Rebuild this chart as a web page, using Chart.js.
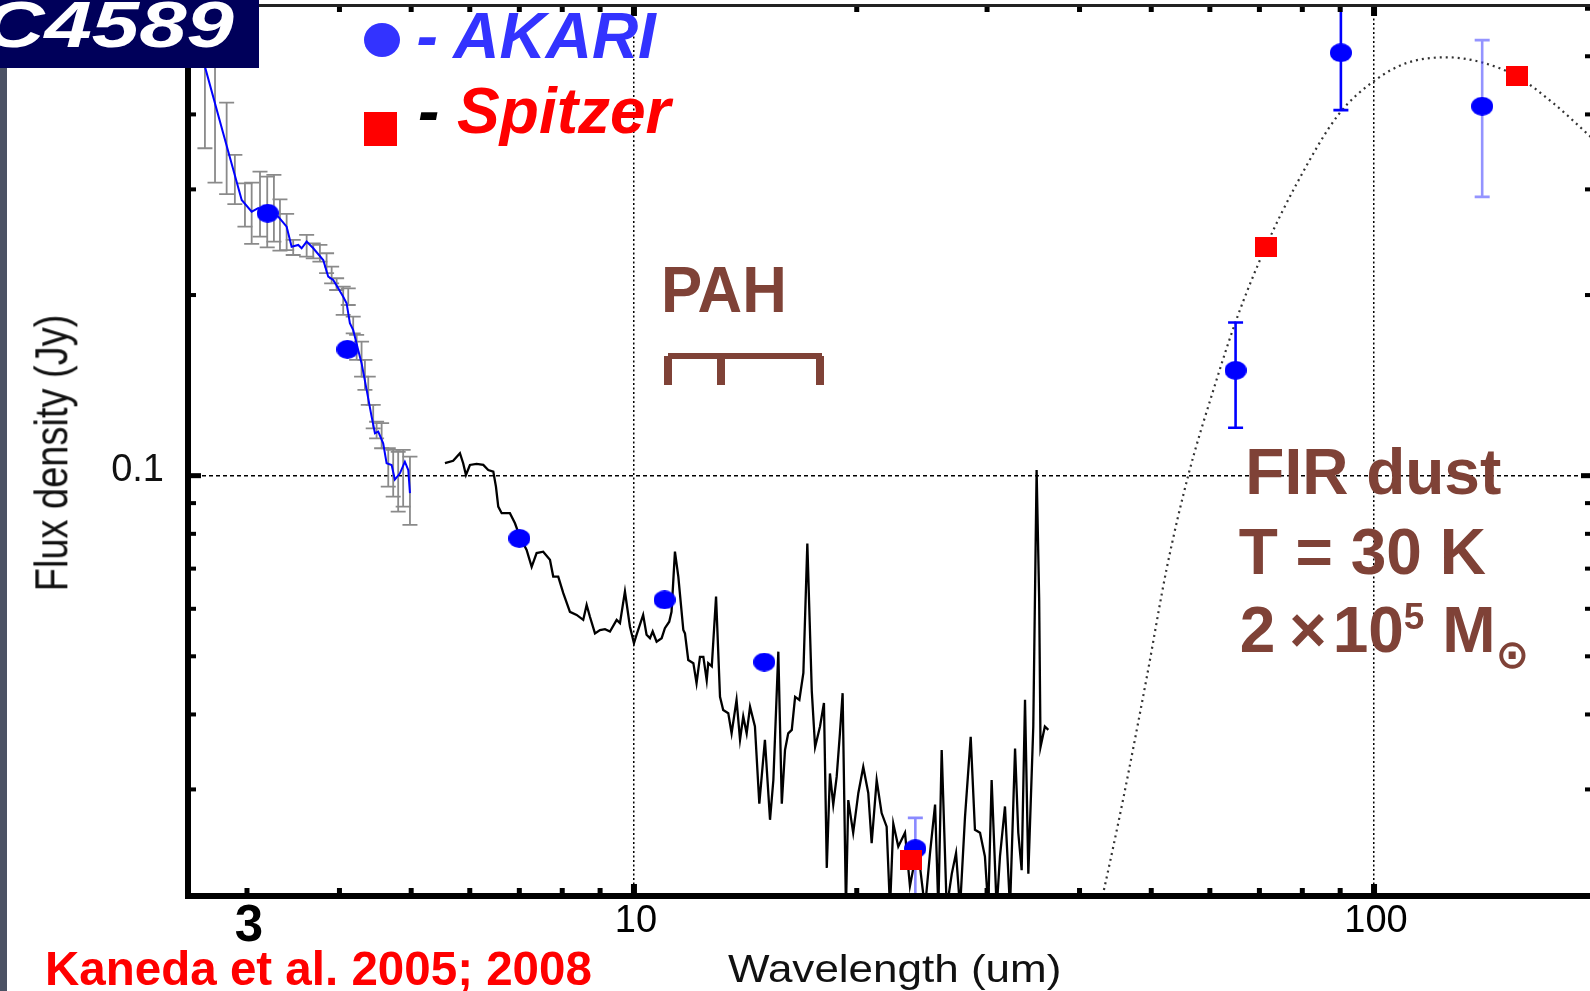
<!DOCTYPE html>
<html><head><meta charset="utf-8">
<script src="https://cdn.jsdelivr.net/npm/chart.js@4.4.0/dist/chart.umd.min.js"></script>
<style>
html,body{margin:0;padding:0;background:#fff;}
body{width:1590px;height:991px;overflow:hidden;position:relative;font-family:'Liberation Sans',Arial,sans-serif;}
#c{position:absolute;left:0;top:0;}
.t{position:absolute;white-space:nowrap;line-height:1;margin:0;}
.brown{color:#7f4237;}
.bk{position:absolute;background:#7f4237;}
</style></head><body>
<canvas id="c" width="1590" height="991"></canvas>
<div style="position:absolute;left:0;top:0;width:7px;height:991px;background:#4b5264"></div>
<div style="position:absolute;left:0;top:0;width:259px;height:68px;background:#00005a;overflow:hidden">
  <div class="t" style="left:-16.8px;top:-7px;font-size:64px;font-weight:bold;font-style:italic;color:#fff;transform-origin:0 0;transform:scaleX(1.33)">C4589</div>
</div>
<div style="position:absolute;left:364px;top:23px;width:36px;height:34px;border-radius:50%;background:#3333ff"></div>
<div class="t" style="left:416.5px;top:3.5px;font-size:64px;font-weight:bold;font-style:italic;color:#3333ff">- AKARI</div>
<div style="position:absolute;left:364px;top:112px;width:33px;height:34px;background:#ff0000"></div>
<div class="t" style="left:418px;top:79px;font-size:64px;font-weight:bold;font-style:italic;color:#ff0000"><span style="color:#000">-</span> Spitzer</div>

<div class="t brown" style="left:661.3px;top:256.5px;font-size:65px;font-weight:bold;transform-origin:0 0;transform:scaleX(0.95)">PAH</div>
<div class="bk" style="left:668px;top:353px;width:154px;height:6px"></div>
<div class="bk" style="left:664px;top:356px;width:8px;height:29px"></div>
<div class="bk" style="left:717px;top:356px;width:8px;height:29px"></div>
<div class="bk" style="left:816px;top:356px;width:8px;height:29px"></div>

<div class="t brown" style="left:1245.3px;top:439.7px;font-size:64px;font-weight:bold">FIR dust</div>
<div class="t brown" style="left:1238.7px;top:520px;font-size:64px;font-weight:bold">T = 30 K</div>
<div class="t brown" style="left:1239.7px;top:598.4px;font-size:64px;font-weight:bold">2<span style="margin-left:14px">×</span><span style="margin-left:6px">10</span><span style="font-size:37px;position:relative;top:-23px">5</span> M<span style="font-family:'DejaVu Sans';font-size:40px;font-weight:bold;position:relative;top:16px;margin-left:0px">⊙</span></div>

<div class="t" style="left:51.7px;top:453px;font-size:38px;color:#111;transform-origin:0 0;transform:scaleX(1.22) rotate(-90deg) translate(-50%,-50%)">Flux density (Jy)</div>
<div class="t" style="left:727.5px;top:950px;font-size:38px;color:#111;transform-origin:0 0;transform:scaleX(1.158)">Wavelength (um)</div>
<div class="t" style="left:44.5px;top:944.3px;font-size:49px;font-weight:bold;color:#ff0000;transform-origin:0 0;transform:scaleX(0.97)">Kaneda et al. 2005; 2008</div>

<script>
// ---------------- data ----------------
const xTickValues = [3, 10, 100];
const yTickValues = [0.1];
const xMinorTicks = [3, 4, 5, 6, 7, 8, 9, 20, 30, 40, 50, 60, 70, 80, 90];
const xMajorTicks = [10, 100];
const yMinorTicks = [0.03, 0.04, 0.05, 0.06, 0.07, 0.08, 0.09, 0.2, 0.3, 0.4, 0.5, 0.6];
const yMajorTicks = [0.1];

// AKARI IRC near-IR spectrum (blue line)
const nirWave = [2.559, 2.632, 2.786, 2.951, 3.044, 3.107, 3.205, 3.306, 3.394, 3.447, 3.519, 3.556, 3.612, 3.687, 3.803, 3.863, 3.923, 3.985, 4.047, 4.090, 4.132, 4.175, 4.240, 4.285, 4.353, 4.421, 4.467, 4.513, 4.583, 4.632, 4.705, 4.753, 4.828, 4.903, 4.955, 4.981];
const nirFlux = [0.5324, 0.4805, 0.3721, 0.2880, 0.2754, 0.2791, 0.2738, 0.2703, 0.2600, 0.2408, 0.2424, 0.2393, 0.2455, 0.2393, 0.2288, 0.2146, 0.2119, 0.2052, 0.1987, 0.1937, 0.1795, 0.1749, 0.1620, 0.1540, 0.1390, 0.1254, 0.1177, 0.1184, 0.1132, 0.1049, 0.1042, 0.0985, 0.1009, 0.1055, 0.1022, 0.0935];
// gray error bars of the near-IR spectrum
const nirErrWave = [2.632, 2.716, 2.816, 2.889, 2.981, 3.044, 3.124, 3.195, 3.262, 3.324, 3.394, 3.464, 3.612, 3.687, 3.764, 3.843, 3.904, 3.965, 4.047, 4.111, 4.175, 4.220, 4.285, 4.330, 4.375, 4.443, 4.490, 4.561, 4.656, 4.728, 4.802, 4.877, 4.981];
const nirErrHigh = [0.553, 0.4929, 0.4184, 0.3424, 0.3071, 0.3078, 0.3211, 0.3150, 0.3171, 0.2888, 0.2731, 0.2471, 0.2519, 0.2439, 0.2424, 0.2348, 0.2230, 0.2133, 0.2065, 0.2052, 0.1841, 0.1716, 0.1672, 0.1559, 0.1462, 0.1312, 0.1230, 0.1223, 0.1111, 0.1104, 0.1096, 0.1104, 0.1076];
const nirErrLow = [0.3513, 0.3078, 0.2947, 0.2836, 0.2600, 0.2433, 0.2502, 0.2402, 0.2455, 0.2371, 0.2377, 0.2332, 0.2317, 0.2302, 0.2273, 0.2175, 0.2092, 0.2039, 0.1853, 0.1925, 0.1727, 0.1559, 0.1462, 0.1390, 0.1312, 0.1199, 0.1154, 0.1111, 0.0959, 0.0923, 0.0871, 0.0888, 0.0828];

// Spitzer IRS mid-IR spectrum (black line)
const irsWave = [5.554, 5.698, 5.819, 5.878, 5.929, 6.003, 6.128, 6.258, 6.355, 6.456, 6.509, 6.556, 6.626, 6.798, 6.906, 7.013, 7.161, 7.274, 7.387, 7.540,
  7.700, 7.779, 7.901, 8.026, 8.194, 8.367, 8.540, 8.631, 8.720, 8.858, 8.997, 9.138, 9.281, 9.476, 9.574, 9.723, 9.876, 10.00, 10.08, 10.29,
  10.40, 10.51, 10.60, 10.73, 10.90, 11.01, 11.16, 11.24, 11.36, 11.48, 11.66, 11.72, 11.84, 12.03, 12.15, 12.28, 12.41, 12.54, 12.60, 12.74,
  12.91, 13.07, 13.20, 13.41, 13.55, 13.76, 13.91, 14.05, 14.20, 14.35, 14.57, 14.77, 15.03, 15.27, 15.43, 15.67, 15.84, 16.00, 16.16, 16.34,
  16.51, 16.73, 16.94, 17.15, 17.39, 17.57, 17.84, 18.06, 18.22, 18.40, 18.59, 18.79, 18.98, 19.14, 19.34, 19.48, 19.78, 20.10, 20.41, 20.73,
  20.95, 21.28, 21.61, 21.95, 22.18, 22.41, 22.76, 23.24, 23.60, 23.97, 24.35, 24.73, 25.12, 25.52, 25.78, 26.05, 26.46, 26.88, 27.24, 27.58,
  28.01, 28.51, 28.89, 29.35, 29.80, 30.11, 30.43, 30.91, 31.23, 31.72, 32.22, 32.73, 33.06, 33.41, 33.76, 34.11, 34.64, 35.00, 35.28, 35.43,
  35.91, 36.30];
const irsFlux = [0.1049, 0.1059, 0.1090, 0.1049, 0.1003, 0.1042, 0.1046, 0.1042, 0.1022, 0.1016, 0.0959, 0.0888, 0.0866, 0.0866, 0.0833, 0.0791, 0.0752, 0.0705, 0.0743, 0.0747,
  0.0724, 0.0679, 0.0679, 0.0637, 0.0593, 0.0586, 0.0575, 0.0609, 0.0582, 0.0546, 0.0553, 0.0555, 0.0550, 0.0575, 0.0568, 0.0641, 0.0560, 0.0526, 0.0543, 0.0586,
  0.0543, 0.0536, 0.0550, 0.0529, 0.0536, 0.0557, 0.0571, 0.0593, 0.0747, 0.0679, 0.0553, 0.0546, 0.0493, 0.0487, 0.0451, 0.0499, 0.0499, 0.0456, 0.0487, 0.0481,
  0.0629, 0.0428, 0.0407, 0.0402, 0.0372, 0.0423, 0.0363, 0.0397, 0.0372, 0.0412, 0.0382, 0.0284, 0.0363, 0.0267, 0.0311, 0.0509, 0.0284, 0.0349, 0.0372, 0.0377,
  0.0428, 0.0423, 0.0469, 0.0771, 0.0437, 0.0353, 0.0382, 0.0418, 0.0222, 0.0319, 0.0283, 0.0315, 0.0372, 0.0434, 0.0190, 0.0288, 0.0254, 0.0296, 0.0327, 0.0296,
  0.0244, 0.0311, 0.0274, 0.0260, 0.0190, 0.0263, 0.0241, 0.0254, 0.0207, 0.0229, 0.0223, 0.0190, 0.0235, 0.0283, 0.0190, 0.0349, 0.0190, 0.0217, 0.0235, 0.0190,
  0.0270, 0.0367, 0.0257, 0.0254, 0.0232, 0.0190, 0.0311, 0.0190, 0.0232, 0.0281, 0.0190, 0.0351, 0.0254, 0.0220, 0.0423, 0.0217, 0.0382, 0.1022, 0.0621, 0.0353,
  0.0382, 0.0377];

// AKARI photometry (blue dots)
const akariWave = [3.2, 4.1, 7.0, 11.0, 15.0, 24.0, 65.0, 90.2, 140.0];
const akariFlux = [0.2738, 0.1624, 0.0786, 0.0621, 0.0489, 0.0239, 0.1498, 0.5068, 0.4128];
const akariErrHigh = [null, null, null, null, null, 0.0269, 0.1800, 0.6300, 0.5319];
const akariErrLow = [null, null, null, null, null, 0.0180, 0.1202, 0.4066, 0.2915];

// Spitzer photometry (red squares)
const spitzerWave = [23.7, 71.4, 156.0];
const spitzerFlux = [0.0229, 0.2407, 0.4631];

// FIR dust model curve (dotted)
const dustWave = [42.8, 43.08, 45.84, 49.30, 52.47, 56.11, 60.65, 65.24, 71.4, 78.63, 89.49, 100.3, 110.7, 125.4, 139.1, 155.9, 174.7, 194.9, 202.0];
const dustFlux = [0.0195, 0.0202, 0.0290, 0.0461, 0.0701, 0.1002, 0.1388, 0.1827, 0.2407, 0.3067, 0.3995, 0.4559, 0.4872, 0.4980, 0.4892, 0.4631, 0.4175, 0.3698, 0.3550];

// axis ranges
const X_MIN = 2.497, X_MAX = 195.8;
const Y_MIN = 0.01993, Y_MAX = 0.6087;

// ---------------- styles ----------------
const FONT = "'Liberation Sans', Arial, sans-serif";
const akariErrColor = ['', '', '', '', '', 'rgba(60,60,255,0.6)', '#0000ff', '#0000ff', 'rgba(60,60,255,0.55)'];

function ellipseStyle(w, h, color) {
  const c = document.createElement('canvas'); c.width = w; c.height = h;
  const g = c.getContext('2d'); g.fillStyle = color;
  g.beginPath(); g.ellipse(w / 2, h / 2, w / 2, h / 2, 0, 0, Math.PI * 2); g.fill();
  return c;
}
function rectStyle(w, h, color) {
  const c = document.createElement('canvas'); c.width = w; c.height = h;
  const g = c.getContext('2d'); g.fillStyle = color; g.fillRect(0, 0, w, h);
  return c;
}
const dotImg = ellipseStyle(22, 19, '#0000ff');
const sqImg = rectStyle(22, 20, '#ff0000');

const pts = (xs, ys) => xs.map((v, i) => ({x: v, y: ys[i]}));

function errBar(ctx, x, yT, yB, cap) {
  ctx.beginPath();
  ctx.moveTo(x, yT); ctx.lineTo(x, yB);
  ctx.moveTo(x - cap / 2, yT); ctx.lineTo(x + cap / 2, yT);
  ctx.moveTo(x - cap / 2, yB); ctx.lineTo(x + cap / 2, yB);
  ctx.stroke();
}

const errorBars = {
  id: 'errorBars',
  beforeDatasetDraw(chart, args) {
    const {ctx, chartArea: a, scales: {x, y}} = chart;
    const label = chart.data.datasets[args.index].label;
    ctx.save();
    ctx.beginPath(); ctx.rect(a.left, a.top, a.right - a.left, a.bottom - a.top); ctx.clip();
    if (label === 'nir') {
      ctx.strokeStyle = '#8a8a8a'; ctx.lineWidth = 1.8;
      nirErrWave.forEach((w, i) => errBar(ctx, x.getPixelForValue(w), y.getPixelForValue(nirErrHigh[i]), y.getPixelForValue(nirErrLow[i]), 15));
    } else if (label === 'akari') {
      ctx.lineWidth = 2.6;
      akariWave.forEach((w, i) => {
        if (akariErrHigh[i] == null) return;
        ctx.strokeStyle = akariErrColor[i];
        errBar(ctx, x.getPixelForValue(w), y.getPixelForValue(akariErrHigh[i]), y.getPixelForValue(akariErrLow[i]), 15);
      });
    }
    ctx.restore();
  }
};

const frame = {
  id: 'frame',
  afterDraw(chart) {
    const {ctx, chartArea: a, scales: {x, y}} = chart;
    ctx.save();
    ctx.fillStyle = '#000';
    xMinorTicks.forEach(v => { const p = x.getPixelForValue(v); ctx.fillRect(p - 2.5, a.bottom - 8, 5, 6); ctx.fillRect(p - 2.5, a.top + 1, 5, 6); });
    xMajorTicks.forEach(v => { const p = x.getPixelForValue(v); ctx.fillRect(p - 3, a.bottom - 12, 6, 10); ctx.fillRect(p - 3, a.top + 1, 6, 10); });
    yMinorTicks.forEach(v => { const p = y.getPixelForValue(v); ctx.fillRect(a.left + 2, p - 2, 6, 4); ctx.fillRect(a.right - 5, p - 2, 5, 4); });
    yMajorTicks.forEach(v => { const p = y.getPixelForValue(v); ctx.fillRect(a.left + 2, p - 2.5, 11, 5); ctx.fillRect(a.right - 9, p - 2.5, 9, 5); });
    // frame
    ctx.fillRect(a.left - 3, 3, 6, a.bottom + 3 - 3);
    ctx.fillRect(a.left - 3, a.bottom - 3, a.right - a.left + 3, 6);
    ctx.fillStyle = '#222';
    ctx.fillRect(a.left - 3, a.top - 1, a.right - a.left + 3, 3);
    ctx.restore();
  }
};

Chart.defaults.font.family = FONT;

new Chart(document.getElementById('c'), {
  type: 'line',
  data: {
    datasets: [
      {label: 'spitzer', data: pts(spitzerWave, spitzerFlux), showLine: false, pointStyle: sqImg, pointRadius: 10, order: 0},
      {label: 'akari', data: pts(akariWave, akariFlux), showLine: false, pointStyle: dotImg, pointRadius: 10, order: 1},
      {label: 'nir', data: pts(nirWave, nirFlux), borderColor: '#0000ff', borderWidth: 2, pointRadius: 0, order: 2},
      {label: 'irs', data: pts(irsWave, irsFlux), borderColor: '#000000', borderWidth: 2.3, pointRadius: 0, order: 3},
      {label: 'dust', data: pts(dustWave, dustFlux), borderColor: '#333333', borderWidth: 2.2, borderDash: [2, 4], pointRadius: 0, cubicInterpolationMode: 'monotone', order: 4}
    ]
  },
  options: {
    responsive: false, animation: false, devicePixelRatio: 1,
    events: [],
    layout: {autoPadding: false, padding: {left: 0, right: 0, top: 5, bottom: 0}},
    plugins: {legend: {display: false}, tooltip: {enabled: false}},
    scales: {
      x: {
        type: 'logarithmic', min: X_MIN, max: X_MAX,
        afterBuildTicks: s => { s.ticks = xTickValues.map(v => ({value: v})); },
        afterFit: s => { s.height = 95; s.paddingLeft = 0; s.paddingRight = 0; },
        ticks: {
          autoSkip: false, maxRotation: 0, minRotation: 0, padding: 3, labelOffset: 2,
          color: '#000',
          font: c => (c.tick && c.tick.value === 3) ? {family: FONT, size: 51, weight: 'bold', lineHeight: 1.1} : {family: FONT, size: 38, lineHeight: 1.2},
          callback: v => String(v)
        },
        grid: {drawTicks: false, lineWidth: 1.5, color: c => (c.tick && c.tick.value === 3) ? 'rgba(0,0,0,0)' : '#000'},
        border: {display: false, dash: [2, 2.5]}
      },
      y: {
        type: 'logarithmic', min: Y_MIN, max: Y_MAX,
        afterBuildTicks: s => { s.ticks = yTickValues.map(v => ({value: v})); },
        afterFit: s => { s.width = 188; s.paddingTop = 0; s.paddingBottom = 0; },
        ticks: {padding: 24, labelOffset: -5, color: '#111', font: {family: FONT, size: 38}, callback: v => String(v)},
        grid: {drawTicks: false, lineWidth: 1.5, color: '#000'},
        border: {display: false, dash: [4, 3]}
      }
    }
  },
  plugins: [errorBars, frame]
});
</script>
</body></html>
